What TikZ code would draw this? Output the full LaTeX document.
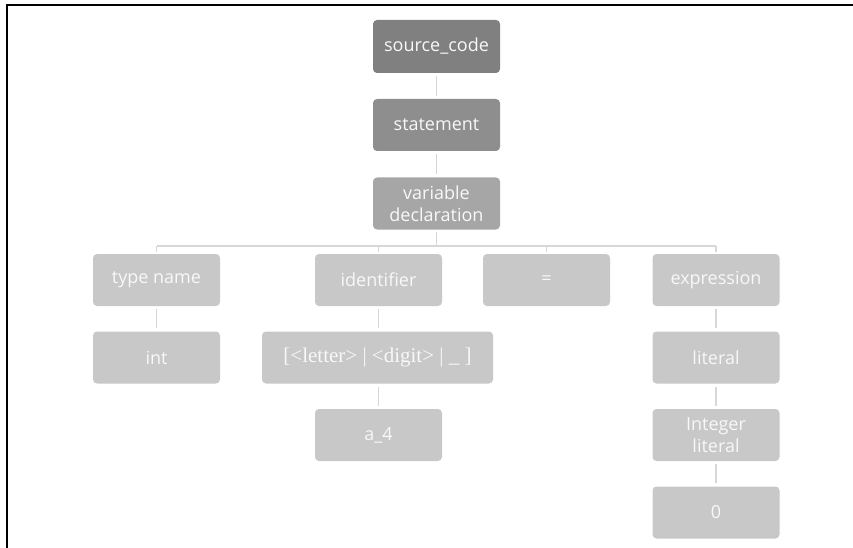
\documentclass[tikz,border=0pt]{standalone}
\usepackage{fontspec}
\setmainfont{Open Sans}
\newfontfamily\serifb{Liberation Serif}
\definecolor{cA}{RGB}{128,128,128}
\definecolor{cB}{RGB}{142,142,142}
\definecolor{cC}{RGB}{166,166,166}
\definecolor{cD}{RGB}{200,200,200}
\definecolor{cLine}{RGB}{215,215,215}
\definecolor{cText}{RGB}{248,248,248}
\begin{document}
\begin{tikzpicture}[x=1pt,y=-1pt,
  box/.style={rectangle,rounded corners=4pt,draw=none,text=cText,minimum width=127pt,minimum height=52pt,inner sep=0pt,align=center,font=\fontsize{18}{21.5}\selectfont},
  conn/.style={draw=cLine,line width=1.3pt}]
\useasboundingbox (0,0) rectangle (853,548);
\draw[line width=2pt,black] (7,548) -- (7,5) -- (853,5);
\node[box,fill=cA,minimum height=53pt] (sc) at (436.5,46.5) {source\_code};
\node[box,fill=cB] (st) at (436.5,125) {statement};
\node[box,fill=cC] (vd) at (436.5,203.5) {variable\\declaration};
\node[box,fill=cD] (tn) at (156.5,280) {type name};
\node[box,fill=cD] (id) at (378.5,280) {identifier};
\node[box,fill=cD] (eq) at (546.5,280) {=};
\node[box,fill=cD] (ex) at (716,280) {expression};
\node[box,fill=cD] (int) at (156.5,357.5) {int};
\node[box,fill=cD,minimum width=231pt,font=\serifb\fontsize{21}{22}\selectfont] (br) at (377.5,357.5) {[<letter> | <digit> | \_ ]};
\node[box,fill=cD] (lit) at (716,357.5) {literal};
\node[box,fill=cD] (a4) at (378.5,435) {a\_4};
\node[box,fill=cD] (il) at (716,435) {Integer\\literal};
\node[box,fill=cD] (zero) at (716,512.5) {0};
\coordinate (busy) at (0,246);
\path[conn,shorten >=3pt,shorten <=3pt] (sc) -- (st);
\path[conn,shorten >=3pt,shorten <=3pt] (st) -- (vd);
\path[conn,shorten <=2pt] (vd.south) -- (vd.south |- busy);
\path[conn] (tn.north |- busy) -- (ex.north |- busy);
\foreach \n in {tn,id,eq,ex}{\path[conn,shorten >=2pt] (\n.north |- busy) -- (\n.north);}
\path[conn,shorten >=3pt,shorten <=3pt] (tn) -- (int);
\path[conn,shorten >=3pt,shorten <=3pt] (id) -- (id |- br.north);
\path[conn,shorten >=3pt,shorten <=3pt] (a4 |- br.south) -- (a4);
\path[conn,shorten >=3pt,shorten <=3pt] (ex) -- (lit);
\path[conn,shorten >=3pt,shorten <=3pt] (lit) -- (il);
\path[conn,shorten >=3pt,shorten <=3pt] (il) -- (zero);
\end{tikzpicture}
\end{document}
